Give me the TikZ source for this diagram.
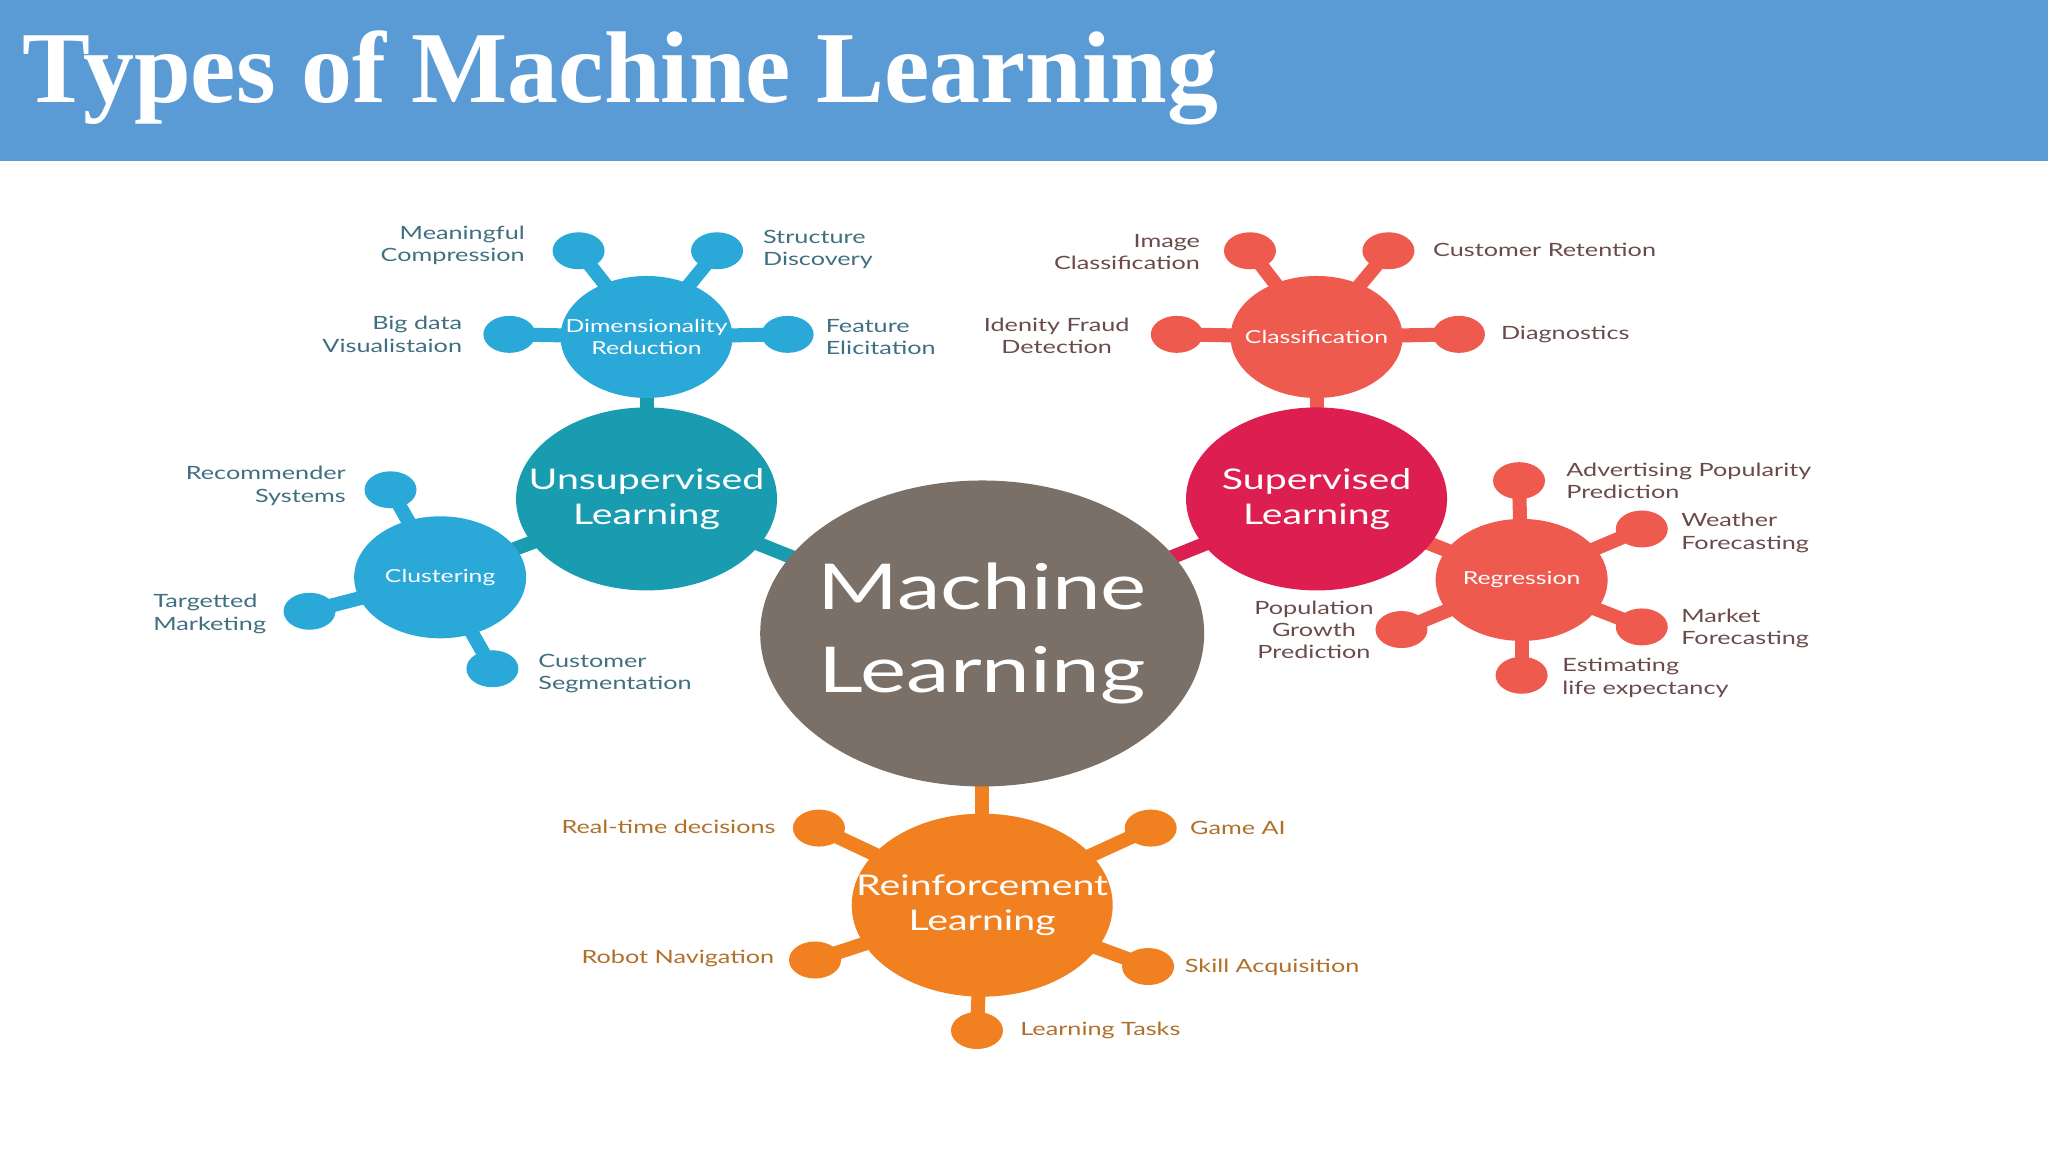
\documentclass[tikz,border=0pt]{standalone}
\usepackage{fontspec}
\setmainfont[FakeStretch=1.38]{Lato}
\newfontfamily\titlefont{Liberation Serif}
\usetikzlibrary{shapes.geometric,positioning,backgrounds}
\definecolor{headblue}{HTML}{5B9BD5}
\definecolor{mlgray}{HTML}{7A7068}
\definecolor{unteal}{HTML}{1A9CB0}
\definecolor{unblue}{HTML}{2AA8D8}
\definecolor{sucrim}{HTML}{DC1E50}
\definecolor{sured}{HTML}{EF5A4F}
\definecolor{reorange}{HTML}{F08020}
\definecolor{untext}{HTML}{3F6F80}
\definecolor{sutext}{HTML}{6A4A4A}
\definecolor{retext}{HTML}{B0702A}
\tikzset{
  blob/.style={ellipse,inner sep=0pt},
  blobtext/.style={text=white,align=center,inner sep=0pt},
  mainhub/.style={blob,fill=mlgray,minimum width=4.44cm,minimum height=3.06cm,
    label={[blobtext,font=\fontsize{18}{23.5}\selectfont]center:#1}},
  hub/.style={blob,minimum width=2.61cm,minimum height=1.83cm,
    label={[blobtext,font=\fontsize{8.1}{10}\selectfont]center:#1}},
  subhub/.style={blob,minimum width=1.72cm,minimum height=1.22cm,
    label={[blobtext,font=\fontsize{5.1}{6}\selectfont]center:#1}},
  leaf/.style={blob,minimum width=0.52cm,minimum height=0.37cm},
  lbl/.style={inner sep=1pt,font=\fontsize{5.2}{6.3}\selectfont},
  link/.style={line width=4pt}
}
\begin{document}
\begin{tikzpicture}[x=0.01306cm,y=-0.01306cm]
\useasboundingbox (0,0) rectangle (1568,882);
\fill[headblue] (0,0) rectangle (1568,123);
\node[anchor=west,text=white,font=\titlefont\fontsize{29}{34}\selectfont\bfseries] (title) at (8,60) {Types of Machine Learning};
% hubs
\node[mainhub={Machine\\Learning}] (ml) at (752,485) {};
\node[hub={Unsupervised\\Learning},fill=unteal] (unsup) at (495,382) {};
\node[hub={Supervised\\Learning},fill=sucrim] (sup) at (1008,382) {};
\node[hub={Reinforcement\\Learning},fill=reorange] (reinf) at (752,693) {};
\node[subhub={Dimensionality\\Reduction},fill=unblue] (dimred) at (495,258) {};
\node[subhub={Clustering},fill=unblue] (clust) at (337,442) {};
\node[subhub={Classification},fill=sured] (classif) at (1008,258) {};
\node[subhub={Regression},fill=sured] (regr) at (1165,444) {};
% leaves
\foreach \n/\x/\y in {dA/443/192,dB/549/192,dC/390/256,dD/603/256,cA/299/375,cB/237/468,cC/377/512}
  \node[leaf,fill=unblue] (\n) at (\x,\y) {};
\foreach \n/\x/\y in {kA/957/192,kB/1063/192,kC/901/256,kD/1117/256,rA/1163/368,rB/1257/405,rC/1257/480,rD/1073/482,rE/1165/517}
  \node[leaf,fill=sured] (\n) at (\x,\y) {};
\foreach \n/\x/\y in {oA/627/634,oB/881/634,oC/624/735,oD/879/740,oE/748/789}
  \node[leaf,fill=reorange] (\n) at (\x,\y) {};
% connectors
\begin{scope}[on background layer]
\draw[link,unteal] (ml.center) -- (unsup.center);
\draw[link,sucrim] (ml.center) -- (sup.center);
\draw[link,reorange] (ml.center) -- (reinf.center);
\draw[link,unteal] (unsup.center) -- (dimred.center);
\draw[link,unteal] (unsup.center) -- (clust.center);
\draw[link,sured] (sup.center) -- (classif.center);
\draw[link,sured] (sup.center) -- (regr.center);
\foreach \n in {dA,dB,dC,dD} \draw[link,unblue] (dimred.center) -- (\n.center);
\foreach \n in {cA,cB,cC} \draw[link,unblue] (clust.center) -- (\n.center);
\foreach \n in {kA,kB,kC,kD} \draw[link,sured] (classif.center) -- (\n.center);
\foreach \n in {rA,rB,rC,rD,rE} \draw[link,sured] (regr.center) -- (\n.center);
\foreach \n in {oA,oB,oC,oD,oE} \draw[link,reorange] (reinf.center) -- (\n.center);
\end{scope}
% labels
\begin{scope}[lbl/.append style={text=untext}]
\node[lbl,anchor=east,align=right] (tdA) at (405,188) {Meaningful\\Compression};
\node[lbl,anchor=west,align=left] (tdB) at (581,191) {Structure\\Discovery};
\node[lbl,anchor=east,align=right] (tdC) at (357,256) {Big data\\Visualistaion};
\node[lbl,anchor=west,align=left] (tdD) at (629,258) {Feature\\Elicitation};
\node[lbl,anchor=east,align=right] (tcA) at (268,372) {Recommender\\Systems};
\node[lbl,anchor=east,align=left] (tcB) at (207,470) {Targetted\\Marketing};
\node[lbl,anchor=west,align=left] (tcC) at (409,516) {Customer\\Segmentation};
\end{scope}
\begin{scope}[lbl/.append style={text=sutext}]
\node[lbl,anchor=east,align=right] (tkA) at (922,193) {Image\\Classification};
\node[lbl,anchor=west,align=left] (tkB) at (1094,191) {Customer Retention};
\node[lbl,anchor=east,align=center] (tkC) at (868,257) {Idenity Fraud\\Detection};
\node[lbl,anchor=west,align=left] (tkD) at (1146,256) {Diagnostics};
\node[lbl,anchor=west,align=left] (trA) at (1196,368) {Advertising Popularity\\Prediction};
\node[lbl,anchor=west,align=left] (trB) at (1284,408) {Weather\\Forecasting};
\node[lbl,anchor=west,align=left] (trC) at (1284,481) {Market\\Forecasting};
\node[lbl,align=center] (trD) at (1006,482) {Population\\Growth\\Prediction};
\node[lbl,anchor=west,align=left] (trE) at (1193,519) {Estimating\\life expectancy};
\end{scope}
\begin{scope}[lbl/.append style={text=retext}]
\node[lbl,anchor=east] (toA) at (597,633) {Real-time decisions};
\node[lbl,anchor=west] (toB) at (908,634) {Game AI};
\node[lbl,anchor=east] (toC) at (596,734) {Robot Navigation};
\node[lbl,anchor=west] (toD) at (904,741) {Skill Acquisition};
\node[lbl,anchor=west] (toE) at (778,789) {Learning Tasks};
\end{scope}
\end{tikzpicture}
\end{document}
